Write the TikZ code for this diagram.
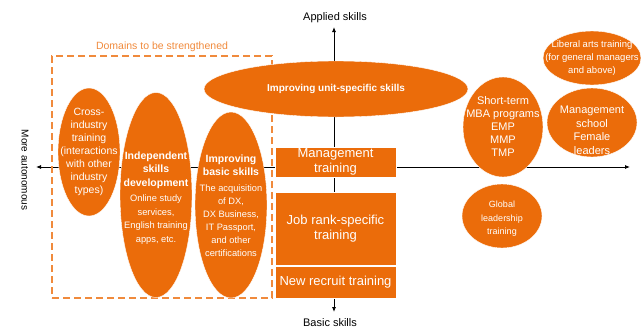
\documentclass[tikz,border=0pt]{standalone}
\usepackage{fontspec}
\setmainfont{Liberation Sans}
\usetikzlibrary{arrows.meta,shapes.geometric}

\definecolor{brandorange}{HTML}{EB6C0A}
\definecolor{dashorange}{HTML}{F08A3C}

\newcommand{\fsz}[2]{\fontsize{#1}{#2}\selectfont}
\newcommand{\smalltxt}[1]{{\fsz{9.3}{13}#1}}

\begin{document}
\begin{tikzpicture}[
  x=1pt, y=-1pt, >={Latex[length=5pt,width=4pt]},
  every node/.style={inner sep=0pt},
  blob/.style={ellipse, fill=brandorange, draw=white, line width=0.4pt},
  blobtext/.style={text=white, align=center},
  block/.style={fill=brandorange, draw=white, line width=0.5pt,
                text=white, align=center, minimum width=121pt,
                font=\fsz{13}{15}},
  axis/.style={<->, line width=0.8pt},
  axislabel/.style={font=\fsz{11}{13}},
]
\useasboundingbox (0,0) rectangle (641,327);

% axes
\coordinate (top) at (334,27);
\coordinate (bottom) at (334,312);
\coordinate (left) at (36,167);
\coordinate (right) at (630,167);
\draw[axis] (bottom) -- (top);
\draw[axis] (left) -- (right);

\node[axislabel, anchor=base] (applied) at (335,20) {Applied skills};
\node[axislabel, anchor=base] (basic) at (330,326) {Basic skills};
\node[axislabel, font=\fsz{10}{12}, rotate=-90] (autonomous) at (25,170) {More autonomous};
\node[axislabel, font=\fsz{10}{12}, rotate=-90] (selective) at (645,160) {More selective};

% domains to be strengthened
\node[draw=dashorange, line width=1.3pt, dash pattern=on 7pt off 4pt,
      minimum width=220pt, minimum height=242pt] (domains) at (162,177) {};
\node[text=dashorange, font=\fsz{10.5}{12}, anchor=base] (domainslabel)
  at (162,49) {Domains to be strengthened};

% ellipses
\node[blob, minimum width=264pt, minimum height=56pt] (unit) at (336,89) {};
\node[blobtext, font=\fsz{10}{12}\bfseries] at (unit) {Improving unit-specific skills};

\node[blob, minimum width=62pt, minimum height=128pt] (cross) at (89,152) {};
\node[blobtext, font=\fsz{10.5}{13}] at (cross)
  {Cross-\\industry\\training\\(interactions\\with other\\industry\\types)};

\node[blob, minimum width=72pt, minimum height=205pt] (indep) at (156,195) {};
\node[blobtext, font=\fsz{10.5}{13.5}] at ([yshift=-3pt]indep)
  {\textbf{Independent}\\\textbf{skills}\\\textbf{development}\\[2pt]
   \smalltxt{Online study}\\\smalltxt{services,}\\\smalltxt{English training}\\\smalltxt{apps, etc.}};

\node[blob, minimum width=72pt, minimum height=186pt] (basicsk) at (231,205) {};
\node[blobtext, font=\fsz{10.5}{13}] at ([yshift=-1pt]basicsk)
  {\textbf{Improving}\\\textbf{basic skills}\\[3pt]
   \smalltxt{The acquisition}\\\smalltxt{of DX,}\\\smalltxt{DX Business,}\\\smalltxt{IT Passport,}\\\smalltxt{and other}\\\smalltxt{certifications}};

\node[blob, minimum width=80pt, minimum height=100pt] (mba) at (503,127) {};
\node[blobtext, font=\fsz{11}{13}] at (mba)
  {Short-term\\MBA programs\\EMP\\MMP\\TMP};

\node[blob, minimum width=98pt, minimum height=54pt] (liberal) at (592,58) {};
\node[blobtext, font=\fsz{9.5}{13}] at (liberal)
  {Liberal arts training\\(for general managers\\and above)};

\node[blob, minimum width=90pt, minimum height=69pt] (school) at (592,122.5) {};
\node[blobtext, font=\fsz{11}{13.5}] at ([yshift=-8pt]school)
  {Management\\school\\Female\\leaders};

\node[blob, minimum width=80pt, minimum height=64pt] (global) at (502,216) {};
\node[blobtext, font=\fsz{9}{13.5}] at ([yshift=-3pt]global)
  {Global\\leadership\\training};

% training blocks on the axis
\node[block, minimum height=30pt] (mgmt) at (335.5,162) {Management\\training};
\node[block, minimum height=73pt] (jobrank) at (335.5,228.5) {Job rank-specific\\training};
\node[block, minimum height=32pt] (recruit) at (335.5,282) {New recruit training};
\end{tikzpicture}
\end{document}
